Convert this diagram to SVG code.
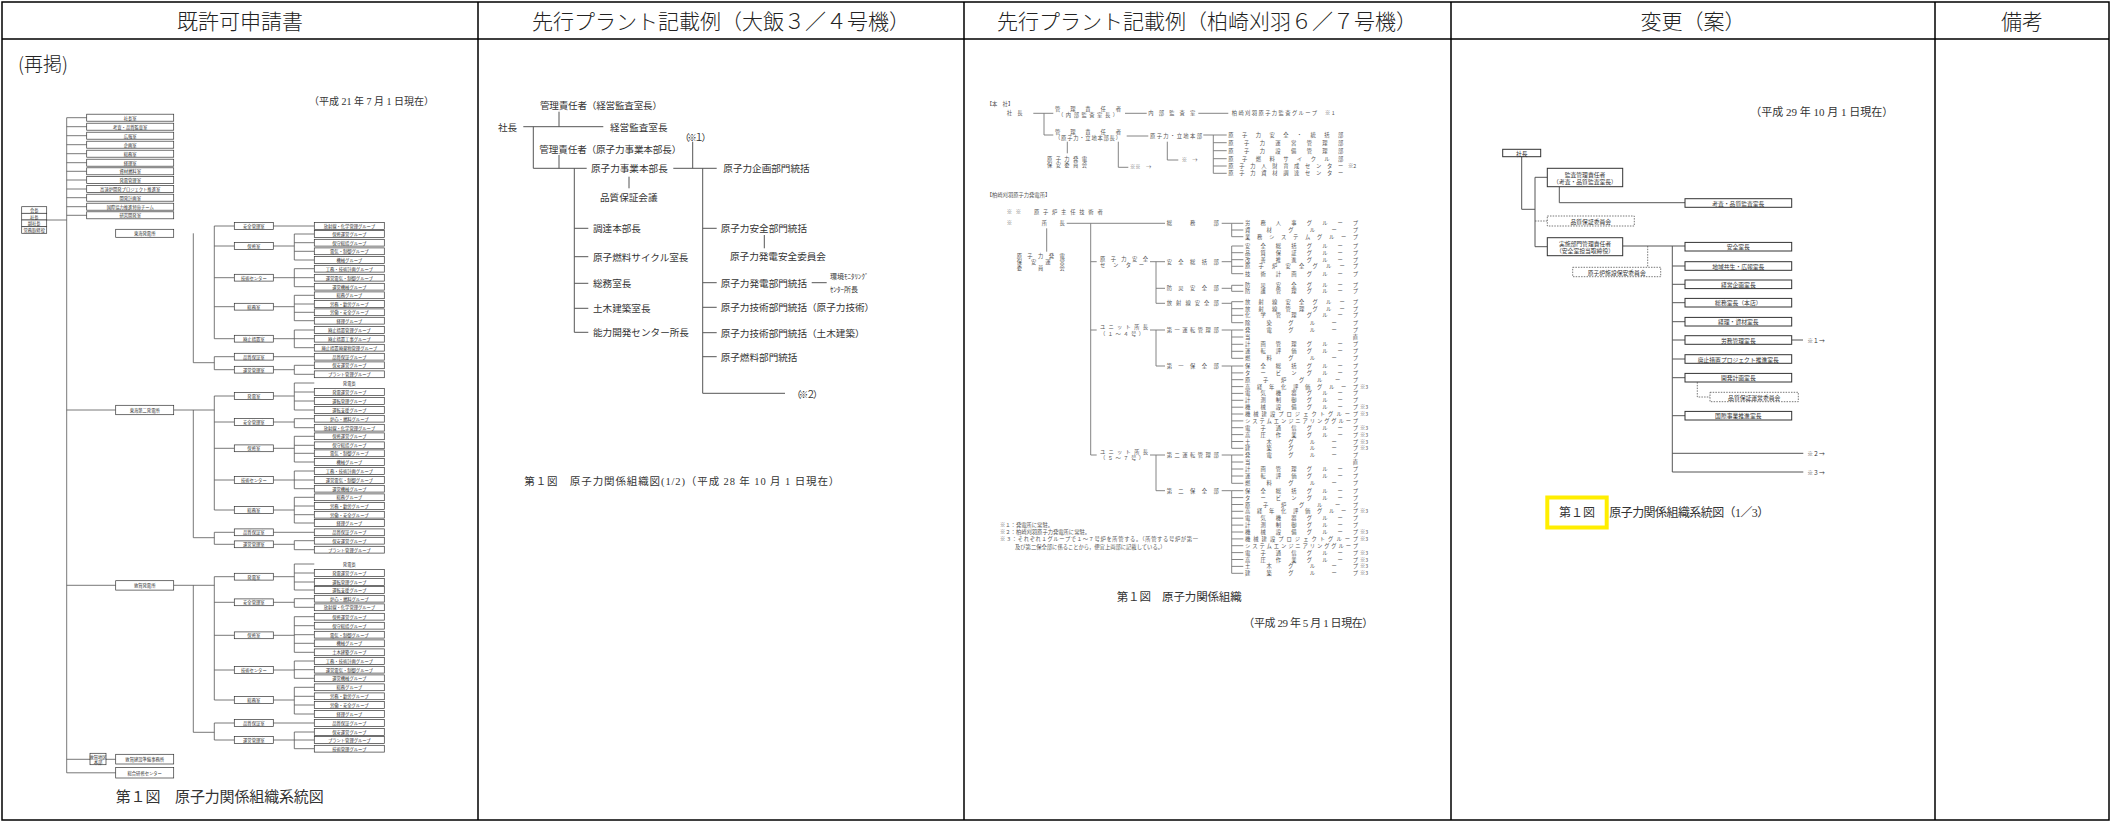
<svg xmlns="http://www.w3.org/2000/svg" width="2112" height="824" viewBox="0 0 2112 824">
<style>
text{font-family:"Noto Sans CJK JP","Noto Sans",sans-serif}
.hd{font-size:21px;fill:#222;font-weight:300;text-anchor:middle;dominant-baseline:central}
.grid{fill:none;stroke:#000;stroke-width:1.5}
.ln{fill:none;stroke:#555;stroke-width:0.8}
.b1{fill:#fff;stroke:#333;stroke-width:0.7}
.t1{font-size:4.3px;fill:#333;text-anchor:middle;dominant-baseline:central}
.t2{font-size:9.6px;fill:#333;dominant-baseline:central}
.l2{fill:none;stroke:#555;stroke-width:1}
.t3{font-size:5.3px;fill:#555;dominant-baseline:central}
.l3{fill:none;stroke:#777;stroke-width:0.9}
.b4{fill:#fff;stroke:#333;stroke-width:1}
.d4{fill:#fff;stroke:#555;stroke-width:0.8;stroke-dasharray:1.5 1.2}
.t4{font-size:5.8px;fill:#333;text-anchor:middle;dominant-baseline:central}
.cap{font-family:"Liberation Serif","Noto Sans CJK JP",serif;fill:#333;dominant-baseline:central}
</style>
<rect width="2112" height="824" fill="#fff"/>
<g id="table">
<rect class="grid" x="2" y="2" width="2107" height="818"/>
<path class="grid" d="M2,39H2109M478,2V820M964,2V820M1451,2V820M1935,2V820"/>
<text class="hd" x="240" y="20">既許可申請書</text>
<text class="hd" x="721" y="20">先行プラント記載例（大飯３／４号機）</text>
<text class="hd" x="1207" y="20">先行プラント記載例（柏崎刈羽６／７号機）</text>
<text class="hd" x="1693" y="20">変更（案）</text>
<text class="hd" x="2022" y="20">備考</text>
<text x="18" y="62" style="font-size:19px;fill:#222;font-weight:300;dominant-baseline:central">(再掲)</text>
</g>

<!-- Column 1 -->
<g id="col1-connectors">
<path class="ln" d="M66.7,117.7V772.8M46.7,220H66.7M66.7,117.7H86.7M66.7,126.7H86.7M66.7,135.7H86.7M66.7,144.7H86.7M66.7,153.7H86.7M66.7,162.7H86.7M66.7,171.3H86.7M66.7,180H86.7M66.7,189H86.7M66.7,197.7H86.7M66.7,206.7H86.7M66.7,215.3H86.7"/>
<path class="ln" d="M193.3,233.3V362.7H214.3M214.3,226V338.7M214.3,356.7V369.7M214.3,226H234.3M214.3,246H234.3M214.3,277.7H234.3M214.3,306.7H234.3M214.3,338.7H234.3M214.3,356.7H234.3M214.3,369.7H234.3M273.3,226H314.3M273.3,246H294.3M294.3,234V260M294.3,234H314.3M294.3,242.7H314.3M294.3,251.3H314.3M294.3,260H314.3M273.3,277.7H294.3M294.3,268.7V286.7M294.3,268.7H314.3M294.3,277.7H314.3M294.3,286.7H314.3M273.3,306.7H294.3M294.3,295.3V320.7M294.3,295.3H314.3M294.3,304H314.3M294.3,312.3H314.3M294.3,320.7H314.3M273.3,338.7H294.3M294.3,330V347.7M294.3,330H314.3M294.3,338.7H314.3M294.3,347.7H314.3M273.3,356.7H314.3M273.3,369.7H294.3M294.3,365.3V374.3M294.3,365.3H314.3M294.3,374.3H314.3"/>
<path class="ln" d="M66.7,410H115.7M173.7,410H214.3M193.3,410V537.7H214.3M214.3,396V510M214.3,532.3V544.3M214.3,396H234.3M214.3,422H234.3M214.3,448.3H234.3M214.3,480H234.3M214.3,510H234.3M214.3,532.3H234.3M214.3,544.3H234.3M273.3,396H294.3M294.3,383V410M294.3,383H314.3M294.3,392H314.3M294.3,401H314.3M294.3,410H314.3M273.3,422H294.3M294.3,418.7V427.7M294.3,418.7H314.3M294.3,427.7H314.3M273.3,448.3H294.3M294.3,436.3V462M294.3,436.3H314.3M294.3,445.3H314.3M294.3,453.3H314.3M294.3,462H314.3M273.3,480H294.3M294.3,471V488.7M294.3,471H314.3M294.3,480H314.3M294.3,488.7H314.3M273.3,510H294.3M294.3,497.3V523M294.3,497.3H314.3M294.3,506H314.3M294.3,514.7H314.3M294.3,523H314.3M273.3,532.3H314.3M273.3,544.3H294.3M294.3,540.7V549.7M294.3,540.7H314.3M294.3,549.7H314.3"/>
<path class="ln" d="M66.7,585.3H115.7M173.7,585.3H214.3M193.3,585.3V732.3H214.3M214.3,576.7V700M214.3,723V740M214.3,576.7H234.3M214.3,602.3H234.3M214.3,635.3H234.3M214.3,670H234.3M214.3,700H234.3M214.3,723H234.3M214.3,740H234.3M273.3,576.7H294.3M294.3,564V590M294.3,564H314.3M294.3,573H314.3M294.3,582H314.3M294.3,590H314.3M273.3,602.3H294.3M294.3,598.7V607.3M294.3,598.7H314.3M294.3,607.3H314.3M273.3,635.3H294.3M294.3,616.7V652.3M294.3,616.7H314.3M294.3,625.7H314.3M294.3,634.7H314.3M294.3,643.3H314.3M294.3,652.3H314.3M273.3,670H294.3M294.3,661V678.3M294.3,661H314.3M294.3,669.7H314.3M294.3,678.3H314.3M273.3,700H294.3M294.3,687.3V714M294.3,687.3H314.3M294.3,696.3H314.3M294.3,705H314.3M294.3,714H314.3M273.3,723H314.3M273.3,740H294.3M294.3,732V748.7M294.3,732H314.3M294.3,740H314.3M294.3,748.7H314.3"/>
<path class="ln" d="M66.7,759.3H90M106,759.3H115.7M66.7,772.8H115.7"/>
</g>
<g id="col1-nodes">
<text x="434" y="101" text-anchor="end" class="cap" style="font-size:10px">（平成 21 年 7 月 1 日現在）</text>
<g id="c1-top">
<rect class="b1" x="86.7" y="114.2" width="87" height="7"/><text class="t1" x="130.2" y="117.7">社長室</text>
<rect class="b1" x="86.7" y="123.2" width="87" height="7"/><text class="t1" x="130.2" y="126.7">考査・品質監査室</text>
<rect class="b1" x="86.7" y="132.2" width="87" height="7"/><text class="t1" x="130.2" y="135.7">広報室</text>
<rect class="b1" x="86.7" y="141.2" width="87" height="7"/><text class="t1" x="130.2" y="144.7">企画室</text>
<rect class="b1" x="86.7" y="150.2" width="87" height="7"/><text class="t1" x="130.2" y="153.7">総務室</text>
<rect class="b1" x="86.7" y="159.2" width="87" height="7"/><text class="t1" x="130.2" y="162.7">経理室</text>
<rect class="b1" x="86.7" y="167.8" width="87" height="7"/><text class="t1" x="130.2" y="171.3">資材燃料室</text>
<rect class="b1" x="86.7" y="176.5" width="87" height="7"/><text class="t1" x="130.2" y="180">発電管理室</text>
<rect class="b1" x="86.7" y="185.5" width="87" height="7"/><text class="t1" x="130.2" y="189">高速炉開発プロジェクト推進室</text>
<rect class="b1" x="86.7" y="194.2" width="87" height="7"/><text class="t1" x="130.2" y="197.7">開発計画室</text>
<rect class="b1" x="86.7" y="203.2" width="87" height="7"/><text class="t1" x="130.2" y="206.7">国際協力推進特命チーム</text>
<rect class="b1" x="86.7" y="211.8" width="87" height="7"/><text class="t1" x="130.2" y="215.3">研究開発室</text>
</g>
<g id="c1-exec">
<rect class="b1" x="21.7" y="206.7" width="25" height="6.6"/><text class="t1" x="34.2" y="210">会長</text>
<rect class="b1" x="21.7" y="213.3" width="25" height="6.7"/><text class="t1" x="34.2" y="216.7">社長</text>
<rect class="b1" x="21.7" y="220" width="25" height="6.7"/><text class="t1" x="34.2" y="223.3">副社長</text>
<rect class="b1" x="21.7" y="226.7" width="25" height="6.6"/><text class="t1" x="34.2" y="230">常務取締役</text>
</g>
<g id="c1-tokai">
<rect class="b1" x="115.7" y="229.3" width="58" height="8"/><text class="t1" x="144.7" y="233.3">東海発電所</text>
<rect class="b1" x="234.3" y="222.6" width="39" height="6.8"/><text class="t1" x="253.8" y="226">安全管理室</text>
<rect class="b1" x="234.3" y="242.6" width="39" height="6.8"/><text class="t1" x="253.8" y="246">保修室</text>
<rect class="b1" x="234.3" y="274.3" width="39" height="6.8"/><text class="t1" x="253.8" y="277.7">技術センター</text>
<rect class="b1" x="234.3" y="303.3" width="39" height="6.8"/><text class="t1" x="253.8" y="306.7">総務室</text>
<rect class="b1" x="234.3" y="335.3" width="39" height="6.8"/><text class="t1" x="253.8" y="338.7">廃止措置室</text>
<rect class="b1" x="234.3" y="353.3" width="39" height="6.8"/><text class="t1" x="253.8" y="356.7">品質保証室</text>
<rect class="b1" x="234.3" y="366.3" width="39" height="6.8"/><text class="t1" x="253.8" y="369.7">運営管理室</text>
<rect class="b1" x="314.3" y="222.6" width="70" height="6.8"/><text class="t1" x="349.3" y="226">放射線・化学管理グループ</text>
<rect class="b1" x="314.3" y="230.6" width="70" height="6.8"/><text class="t1" x="349.3" y="234">保修運営グループ</text>
<rect class="b1" x="314.3" y="239.3" width="70" height="6.8"/><text class="t1" x="349.3" y="242.7">保守総括グループ</text>
<rect class="b1" x="314.3" y="247.9" width="70" height="6.8"/><text class="t1" x="349.3" y="251.3">電気・制御グループ</text>
<rect class="b1" x="314.3" y="256.6" width="70" height="6.8"/><text class="t1" x="349.3" y="260">機械グループ</text>
<rect class="b1" x="314.3" y="265.3" width="70" height="6.8"/><text class="t1" x="349.3" y="268.7">工務・技術計画グループ</text>
<rect class="b1" x="314.3" y="274.3" width="70" height="6.8"/><text class="t1" x="349.3" y="277.7">運営電気・制御グループ</text>
<rect class="b1" x="314.3" y="283.3" width="70" height="6.8"/><text class="t1" x="349.3" y="286.7">運営機械グループ</text>
<rect class="b1" x="314.3" y="291.9" width="70" height="6.8"/><text class="t1" x="349.3" y="295.3">総務グループ</text>
<rect class="b1" x="314.3" y="300.6" width="70" height="6.8"/><text class="t1" x="349.3" y="304">労務・勤労グループ</text>
<rect class="b1" x="314.3" y="308.9" width="70" height="6.8"/><text class="t1" x="349.3" y="312.3">労働・安全グループ</text>
<rect class="b1" x="314.3" y="317.3" width="70" height="6.8"/><text class="t1" x="349.3" y="320.7">経理グループ</text>
<rect class="b1" x="314.3" y="326.6" width="70" height="6.8"/><text class="t1" x="349.3" y="330">廃止措置管理グループ</text>
<rect class="b1" x="314.3" y="335.3" width="70" height="6.8"/><text class="t1" x="349.3" y="338.7">廃止措置工事グループ</text>
<rect class="b1" x="314.3" y="344.3" width="70" height="6.8"/><text class="t1" x="349.3" y="347.7">廃止措置廃棄物管理グループ</text>
<rect class="b1" x="314.3" y="353.3" width="70" height="6.8"/><text class="t1" x="349.3" y="356.7">品質保証グループ</text>
<rect class="b1" x="314.3" y="361.9" width="70" height="6.8"/><text class="t1" x="349.3" y="365.3">保安運営グループ</text>
<rect class="b1" x="314.3" y="370.9" width="70" height="6.8"/><text class="t1" x="349.3" y="374.3">プラント管理グループ</text>
</g>
<g id="c1-tokai2">
<rect class="b1" x="115.7" y="405.3" width="58" height="9.4"/><text class="t1" x="144.7" y="410">東海第二発電所</text>
<rect class="b1" x="234.3" y="392.6" width="39" height="6.8"/><text class="t1" x="253.8" y="396">発電室</text>
<rect class="b1" x="234.3" y="418.6" width="39" height="6.8"/><text class="t1" x="253.8" y="422">安全管理室</text>
<rect class="b1" x="234.3" y="444.9" width="39" height="6.8"/><text class="t1" x="253.8" y="448.3">保修室</text>
<rect class="b1" x="234.3" y="476.6" width="39" height="6.8"/><text class="t1" x="253.8" y="480">技術センター</text>
<rect class="b1" x="234.3" y="506.6" width="39" height="6.8"/><text class="t1" x="253.8" y="510">総務室</text>
<rect class="b1" x="234.3" y="528.9" width="39" height="6.8"/><text class="t1" x="253.8" y="532.3">品質保証室</text>
<rect class="b1" x="234.3" y="540.9" width="39" height="6.8"/><text class="t1" x="253.8" y="544.3">運営管理室</text>
<text class="t1" x="349.3" y="383">発電長</text>
<rect class="b1" x="314.3" y="388.6" width="70" height="6.8"/><text class="t1" x="349.3" y="392">発電運営グループ</text>
<rect class="b1" x="314.3" y="397.6" width="70" height="6.8"/><text class="t1" x="349.3" y="401">運転管理グループ</text>
<rect class="b1" x="314.3" y="406.6" width="70" height="6.8"/><text class="t1" x="349.3" y="410">運転支援グループ</text>
<rect class="b1" x="314.3" y="415.3" width="70" height="6.8"/><text class="t1" x="349.3" y="418.7">炉心・燃料グループ</text>
<rect class="b1" x="314.3" y="424.3" width="70" height="6.8"/><text class="t1" x="349.3" y="427.7">放射線・化学管理グループ</text>
<rect class="b1" x="314.3" y="432.9" width="70" height="6.8"/><text class="t1" x="349.3" y="436.3">保修運営グループ</text>
<rect class="b1" x="314.3" y="441.9" width="70" height="6.8"/><text class="t1" x="349.3" y="445.3">保守総括グループ</text>
<rect class="b1" x="314.3" y="449.9" width="70" height="6.8"/><text class="t1" x="349.3" y="453.3">電気・制御グループ</text>
<rect class="b1" x="314.3" y="458.6" width="70" height="6.8"/><text class="t1" x="349.3" y="462">機械グループ</text>
<rect class="b1" x="314.3" y="467.6" width="70" height="6.8"/><text class="t1" x="349.3" y="471">工務・技術計画グループ</text>
<rect class="b1" x="314.3" y="476.6" width="70" height="6.8"/><text class="t1" x="349.3" y="480">運営電気・制御グループ</text>
<rect class="b1" x="314.3" y="485.3" width="70" height="6.8"/><text class="t1" x="349.3" y="488.7">運営機械グループ</text>
<rect class="b1" x="314.3" y="493.9" width="70" height="6.8"/><text class="t1" x="349.3" y="497.3">総務グループ</text>
<rect class="b1" x="314.3" y="502.6" width="70" height="6.8"/><text class="t1" x="349.3" y="506">労務・勤労グループ</text>
<rect class="b1" x="314.3" y="511.3" width="70" height="6.8"/><text class="t1" x="349.3" y="514.7">労働・安全グループ</text>
<rect class="b1" x="314.3" y="519.6" width="70" height="6.8"/><text class="t1" x="349.3" y="523">経理グループ</text>
<rect class="b1" x="314.3" y="528.9" width="70" height="6.8"/><text class="t1" x="349.3" y="532.3">品質保証グループ</text>
<rect class="b1" x="314.3" y="537.3" width="70" height="6.8"/><text class="t1" x="349.3" y="540.7">保安運営グループ</text>
<rect class="b1" x="314.3" y="546.3" width="70" height="6.8"/><text class="t1" x="349.3" y="549.7">プラント管理グループ</text>
</g>
<g id="c1-tsuruga">
<rect class="b1" x="115.7" y="580.7" width="58" height="9.4"/><text class="t1" x="144.7" y="585.3">敦賀発電所</text>
<rect class="b1" x="234.3" y="573.3" width="39" height="6.8"/><text class="t1" x="253.8" y="576.7">発電室</text>
<rect class="b1" x="234.3" y="598.9" width="39" height="6.8"/><text class="t1" x="253.8" y="602.3">安全管理室</text>
<rect class="b1" x="234.3" y="631.9" width="39" height="6.8"/><text class="t1" x="253.8" y="635.3">保修室</text>
<rect class="b1" x="234.3" y="666.6" width="39" height="6.8"/><text class="t1" x="253.8" y="670">技術センター</text>
<rect class="b1" x="234.3" y="696.6" width="39" height="6.8"/><text class="t1" x="253.8" y="700">総務室</text>
<rect class="b1" x="234.3" y="719.6" width="39" height="6.8"/><text class="t1" x="253.8" y="723">品質保証室</text>
<rect class="b1" x="234.3" y="736.6" width="39" height="6.8"/><text class="t1" x="253.8" y="740">運営管理室</text>
<text class="t1" x="349.3" y="564">発電長</text>
<rect class="b1" x="314.3" y="569.6" width="70" height="6.8"/><text class="t1" x="349.3" y="573">発電運営グループ</text>
<rect class="b1" x="314.3" y="578.6" width="70" height="6.8"/><text class="t1" x="349.3" y="582">運転管理グループ</text>
<rect class="b1" x="314.3" y="586.6" width="70" height="6.8"/><text class="t1" x="349.3" y="590">運転支援グループ</text>
<rect class="b1" x="314.3" y="595.3" width="70" height="6.8"/><text class="t1" x="349.3" y="598.7">炉心・燃料グループ</text>
<rect class="b1" x="314.3" y="603.9" width="70" height="6.8"/><text class="t1" x="349.3" y="607.3">放射線・化学管理グループ</text>
<rect class="b1" x="314.3" y="613.3" width="70" height="6.8"/><text class="t1" x="349.3" y="616.7">保修運営グループ</text>
<rect class="b1" x="314.3" y="622.3" width="70" height="6.8"/><text class="t1" x="349.3" y="625.7">保守総括グループ</text>
<rect class="b1" x="314.3" y="631.3" width="70" height="6.8"/><text class="t1" x="349.3" y="634.7">電気・制御グループ</text>
<rect class="b1" x="314.3" y="639.9" width="70" height="6.8"/><text class="t1" x="349.3" y="643.3">機械グループ</text>
<rect class="b1" x="314.3" y="648.9" width="70" height="6.8"/><text class="t1" x="349.3" y="652.3">土木建築グループ</text>
<rect class="b1" x="314.3" y="657.6" width="70" height="6.8"/><text class="t1" x="349.3" y="661">工務・技術計画グループ</text>
<rect class="b1" x="314.3" y="666.3" width="70" height="6.8"/><text class="t1" x="349.3" y="669.7">運営電気・制御グループ</text>
<rect class="b1" x="314.3" y="674.9" width="70" height="6.8"/><text class="t1" x="349.3" y="678.3">運営機械グループ</text>
<rect class="b1" x="314.3" y="683.9" width="70" height="6.8"/><text class="t1" x="349.3" y="687.3">総務グループ</text>
<rect class="b1" x="314.3" y="692.9" width="70" height="6.8"/><text class="t1" x="349.3" y="696.3">労務・勤労グループ</text>
<rect class="b1" x="314.3" y="701.6" width="70" height="6.8"/><text class="t1" x="349.3" y="705">労働・安全グループ</text>
<rect class="b1" x="314.3" y="710.6" width="70" height="6.8"/><text class="t1" x="349.3" y="714">経理グループ</text>
<rect class="b1" x="314.3" y="719.6" width="70" height="6.8"/><text class="t1" x="349.3" y="723">品質保証グループ</text>
<rect class="b1" x="314.3" y="728.6" width="70" height="6.8"/><text class="t1" x="349.3" y="732">保安運営グループ</text>
<rect class="b1" x="314.3" y="736.6" width="70" height="6.8"/><text class="t1" x="349.3" y="740">プラント管理グループ</text>
<rect class="b1" x="314.3" y="745.3" width="70" height="6.8"/><text class="t1" x="349.3" y="748.7">技術管理グループ</text>
</g>
<g id="c1-bottom">
<rect class="b1" x="90" y="753.3" width="16" height="11.4"/><text class="t1" x="98" y="756.6">敦賀地区</text><text class="t1" x="98" y="761.6">本部</text>
<rect class="b1" x="115.7" y="754.3" width="58" height="9.7"/><text class="t1" x="144.7" y="759.2">敦賀建設準備事務所</text>
<rect class="b1" x="115.7" y="767.6" width="58" height="10.4"/><text class="t1" x="144.7" y="772.8">総合研修センター</text>
</g>
<text class="cap" x="115.7" y="797" style="font-size:15px" textLength="208">第１図　原子力関係組織系統図</text>
</g>

<!-- Column 2 -->
<g id="col2-connectors">
<path class="l2" d="M559,111.7V126.7M523.3,126.7H603.3M533.3,126.7V168.3H586.7M559,155V168.3M673.3,168.3H716.7M692.7,141.7V168.3M629,176.7V188.3M574.3,168.3V332.3H588.3M574.3,228.3H588.3M574.3,256.7H588.3M574.3,283.3H588.3M574.3,308.3H588.3M702.7,168.3V393.3H785M702.7,228.3H716.7M702.7,282.7H716.7M702.7,307.3H716.7M702.7,332.7H716.7M702.7,356.7H716.7M764.3,235V248.3M811.7,282.7H826.7"/>
</g>
<g id="col2-nodes">
<g id="c2-kanri1"><text class="t2" x="540" y="105" textLength="122">管理責任者（経営監査室長）</text></g>
<g id="c2-shacho"><text class="t2" x="498" y="127">社長</text></g>
<g id="c2-keiei"><text class="t2" x="610" y="127">経営監査室長</text></g>
<g id="c2-note1"><text class="t2" x="680" y="137" textLength="31">（※１）</text></g>
<g id="c2-kanri2"><text class="t2" x="539.3" y="149" textLength="142">管理責任者（原子力事業本部長）</text></g>
<g id="c2-honbu"><text class="t2" x="591" y="168.3">原子力事業本部長</text></g>
<g id="c2-kikaku"><text class="t2" x="723.3" y="168.3">原子力企画部門統括</text></g>
<g id="c2-hinshitsu"><text class="t2" x="600" y="197.3">品質保証会議</text></g>
<g id="c2-chotatsu"><text class="t2" x="593" y="228.3">調達本部長</text></g>
<g id="c2-cycle"><text class="t2" x="593" y="256.7">原子燃料サイクル室長</text></g>
<g id="c2-somu"><text class="t2" x="593" y="283.3">総務室長</text></g>
<g id="c2-doboku"><text class="t2" x="593" y="308.3">土木建築室長</text></g>
<g id="c2-noryoku"><text class="t2" x="593" y="332.3">能力開発センター所長</text></g>
<g id="c2-anzen"><text class="t2" x="720.7" y="228.3">原子力安全部門統括</text></g>
<g id="c2-iinkai"><text class="t2" x="730" y="255.7">原子力発電安全委員会</text></g>
<g id="c2-hatsuden"><text class="t2" x="720.7" y="282.7">原子力発電部門統括</text></g>
<g id="c2-kankyo"><text class="t2" x="830" y="276" style="font-size:7px">環境ﾓﾆﾀﾘﾝｸﾞ</text><text class="t2" x="830" y="288.7" style="font-size:7px">ｾﾝﾀｰ所長</text></g>
<g id="c2-gijutsu1"><text class="t2" x="720.7" y="307.3">原子力技術部門統括（原子力技術）</text></g>
<g id="c2-gijutsu2"><text class="t2" x="720.7" y="332.7">原子力技術部門統括（土木建築）</text></g>
<g id="c2-nenryo"><text class="t2" x="720.7" y="356.7">原子燃料部門統括</text></g>
<g id="c2-note2"><text class="t2" x="791.7" y="394.3" textLength="31">（※２）</text></g>
<text class="cap" x="524.3" y="481.7" style="font-size:10.5px" textLength="315">第１図　原子力関係組織図(1/2)（平成 28 年 10 月 1 日現在）</text>
</g>

<!-- Column 3 -->
<g id="col3-connectors">
<path class="l3" d="M1033.3,113.3H1053.3M1044,113.3V135H1053.3M1125,113.3H1146.7M1198.3,113.3H1228.3M1126.7,136H1148.3M1203.3,135H1226.7M1213.3,135V173.3M1213.3,142.7H1226.7M1213.3,150.7H1226.7M1213.3,158.7H1226.7M1213.3,166H1226.7M1213.3,173.3H1226.7M1067.3,141.7V153.3M1118.3,141.7V167.3H1128.3M1167.3,141.7V160H1178.3"/>
<path class="l3" d="M1066.7,223.3H1165M1046.7,228.3V251.7M1090.7,223.3V455H1096.7M1090.7,261.7H1096.7M1090.7,330H1096.7M1150,261.7H1165M1156,261.7V303.3M1156,288.3H1165M1156,303.3H1165M1150,330H1165M1156,330V366H1165M1150,455H1165M1156,455V490.7H1165"/>
<path class="l3" d="M1221.7,223.3H1231.7M1231.7,223.3V236.7M1231.7,223.3H1243.3M1231.7,230H1243.3M1231.7,236.7H1243.3M1221.7,261.7H1231.7M1231.7,246V273.7M1231.7,246H1243.3M1231.7,252.7H1243.3M1231.7,259.7H1243.3M1231.7,266.3H1243.3M1231.7,273.7H1243.3M1221.7,288.3H1231.7M1231.7,285.3V291.3M1231.7,285.3H1243.3M1231.7,291.3H1243.3M1221.7,303.3H1231.7M1231.7,301.7V322.7M1231.7,301.7H1243.3M1231.7,308.7H1243.3M1231.7,315.3H1243.3M1231.7,322.7H1243.3M1221.7,330H1231.7M1231.7,330V358.3M1231.7,337H1243.3M1231.7,330H1243.3M1231.7,344.3H1243.3M1231.7,351.3H1243.3M1231.7,358.3H1243.3M1221.7,366H1231.7M1231.7,366V448.3M1231.7,366H1243.3M1231.7,372.9H1243.3M1231.7,379.7H1243.3M1231.7,386.6H1243.3M1231.7,393.4H1243.3M1231.7,400.3H1243.3M1231.7,407.2H1243.3M1231.7,414H1243.3M1231.7,420.9H1243.3M1231.7,427.7H1243.3M1231.7,434.6H1243.3M1231.7,441.5H1243.3M1231.7,448.3H1243.3M1221.7,455H1231.7M1231.7,455V483.3M1231.7,455H1243.3M1231.7,462H1243.3M1231.7,469H1243.3M1231.7,476H1243.3M1231.7,483.3H1243.3M1221.7,490.7H1231.7M1231.7,490.7V573.3M1231.7,490.7H1243.3M1231.7,497.6H1243.3M1231.7,504.5H1243.3M1231.7,511.3H1243.3M1231.7,518.2H1243.3M1231.7,525.1H1243.3M1231.7,532H1243.3M1231.7,538.9H1243.3M1231.7,545.7H1243.3M1231.7,552.6H1243.3M1231.7,559.5H1243.3M1231.7,566.4H1243.3M1231.7,573.3H1243.3"/>
</g>
<g id="col3-nodes">
<g id="c3-honsha">
<text class="t3" x="986.7" y="104.3">【本　社】</text>
<text class="t3" x="1006.7" y="113.3">社　長</text>
<text class="t3" x="1055" y="109.3" textLength="66" lengthAdjust="spacing">管理責任者</text>
<text class="t3" x="1058" y="115.3" textLength="60" lengthAdjust="spacing">（内部監査室長）</text>
<text class="t3" x="1148.3" y="113.3" textLength="47" lengthAdjust="spacing">内部監査室</text>
<text class="t3" x="1231.7" y="113.3" textLength="103" lengthAdjust="spacing">柏崎刈羽原子力監査グループ　※1</text>
<text class="t3" x="1055" y="132.3" textLength="66" lengthAdjust="spacing">管理責任者</text>
<text class="t3" x="1055" y="138.3" textLength="66" lengthAdjust="spacing">（原子力・立地本部長）</text>
<text class="t3" x="1150" y="136" textLength="52" lengthAdjust="spacing">原子力・立地本部</text>
<text class="t3" x="1228.3" y="135" textLength="115" lengthAdjust="spacing">原子力安全・統括部</text>
<text class="t3" x="1228.3" y="142.7" textLength="115" lengthAdjust="spacing">原子力運営管理部</text>
<text class="t3" x="1228.3" y="150.7" textLength="115" lengthAdjust="spacing">原子力設備管理部</text>
<text class="t3" x="1228.3" y="158.7" textLength="115" lengthAdjust="spacing">原子燃料サイクル部</text>
<text class="t3" x="1228.3" y="166" textLength="115" lengthAdjust="spacing">原子力人財育成センター</text>
<text class="t3" x="1348" y="166">※2</text>
<text class="t3" x="1228.3" y="173.3" textLength="115" lengthAdjust="spacing">原子力資材調達センター</text>
<text class="t3" x="1047" y="159.3" textLength="40" lengthAdjust="spacing">原子力発電</text>
<text class="t3" x="1047" y="165.3" textLength="40" lengthAdjust="spacing">保安委員会</text>
<text class="t3" x="1130" y="167.3">※※　→</text>
<text class="t3" x="1181.7" y="160">※　→</text>
</g>
<g id="c3-ps">
<text class="t3" x="986.7" y="195">【柏崎刈羽原子力発電所】</text>
<text class="t3" x="1006.7" y="211.7" textLength="96" lengthAdjust="spacing">※※　原子炉主任技術者</text>
<text class="t3" x="1006.7" y="223.3" textLength="58" lengthAdjust="spacing">※　所長</text>
<text class="t3" x="1016.7" y="256" textLength="48" lengthAdjust="spacing">原子力発電</text>
<text class="t3" x="1016.7" y="262" textLength="48" lengthAdjust="spacing">保安運営</text>
<text class="t3" x="1016.7" y="268" textLength="48" lengthAdjust="spacing">委員会</text>
<text class="t3" x="1100" y="259.3" textLength="48" lengthAdjust="spacing">原子力安全</text>
<text class="t3" x="1100" y="264.7" textLength="44" lengthAdjust="spacing">センター</text>
<text class="t3" x="1100" y="327.3" textLength="48" lengthAdjust="spacing">ユニット所長</text>
<text class="t3" x="1100" y="334" textLength="44" lengthAdjust="spacing">（１～４号）</text>
<text class="t3" x="1100" y="451.7" textLength="48" lengthAdjust="spacing">ユニット所長</text>
<text class="t3" x="1100" y="458.3" textLength="44" lengthAdjust="spacing">（５～７号）</text>
</g>
<g id="c3-divs">
<text class="t3" x="1166.7" y="223.3" textLength="52" lengthAdjust="spacing">総務部</text>
<text class="t3" x="1166.7" y="261.7" textLength="52" lengthAdjust="spacing">安全総括部</text>
<text class="t3" x="1166.7" y="288.3" textLength="52" lengthAdjust="spacing">防災安全部</text>
<text class="t3" x="1166.7" y="303.3" textLength="52" lengthAdjust="spacing">放射線安全部</text>
<text class="t3" x="1166.7" y="330" textLength="52" lengthAdjust="spacing">第一運転管理部</text>
<text class="t3" x="1166.7" y="366" textLength="52" lengthAdjust="spacing">第一保全部</text>
<text class="t3" x="1166.7" y="455" textLength="52" lengthAdjust="spacing">第二運転管理部</text>
<text class="t3" x="1166.7" y="490.7" textLength="52" lengthAdjust="spacing">第二保全部</text>
</g>
<g id="c3-groups">
<text class="t3" x="1245" y="223.3" textLength="113" lengthAdjust="spacing">労務人事グループ</text>
<text class="t3" x="1245" y="230" textLength="113" lengthAdjust="spacing">資材グループ</text>
<text class="t3" x="1245" y="236.7" textLength="113" lengthAdjust="spacing">業務システムグループ</text>
<text class="t3" x="1245" y="246" textLength="113" lengthAdjust="spacing">安全総括グループ</text>
<text class="t3" x="1245" y="252.7" textLength="113" lengthAdjust="spacing">品質保証グループ</text>
<text class="t3" x="1245" y="259.7" textLength="113" lengthAdjust="spacing">改善推進グループ</text>
<text class="t3" x="1245" y="266.3" textLength="113" lengthAdjust="spacing">原子炉安全グループ</text>
<text class="t3" x="1245" y="273.7" textLength="113" lengthAdjust="spacing">技術計画グループ</text>
<text class="t3" x="1245" y="285.3" textLength="113" lengthAdjust="spacing">防災安全グループ</text>
<text class="t3" x="1245" y="291.3" textLength="113" lengthAdjust="spacing">防護管理グループ</text>
<text class="t3" x="1245" y="301.7" textLength="113" lengthAdjust="spacing">放射線安全グループ</text>
<text class="t3" x="1245" y="308.7" textLength="113" lengthAdjust="spacing">放射線管理グループ</text>
<text class="t3" x="1245" y="315.3" textLength="113" lengthAdjust="spacing">化学管理グループ</text>
<text class="t3" x="1245" y="322.7" textLength="113" lengthAdjust="spacing">除染グループ</text>
<text class="t3" x="1245" y="330" textLength="113" lengthAdjust="spacing">発電グループ</text>
<text class="t3" x="1245" y="337" textLength="113" lengthAdjust="spacing">当直</text>
<text class="t3" x="1245" y="344.3" textLength="113" lengthAdjust="spacing">計画管理グループ</text>
<text class="t3" x="1245" y="351.3" textLength="113" lengthAdjust="spacing">運転評価グループ</text>
<text class="t3" x="1245" y="358.3" textLength="113" lengthAdjust="spacing">燃料グループ</text>
<text class="t3" x="1245" y="366" textLength="113" lengthAdjust="spacing">保全総括グループ</text>
<text class="t3" x="1245" y="372.9" textLength="113" lengthAdjust="spacing">タービングループ</text>
<text class="t3" x="1245" y="379.7" textLength="113" lengthAdjust="spacing">原子炉グループ</text>
<text class="t3" x="1245" y="386.6" textLength="113" lengthAdjust="spacing">高経年化評価グループ</text><text class="t3" x="1360" y="386.6">※3</text>
<text class="t3" x="1245" y="393.4" textLength="113" lengthAdjust="spacing">電気機器グループ</text>
<text class="t3" x="1245" y="400.3" textLength="113" lengthAdjust="spacing">計測制御グループ</text>
<text class="t3" x="1245" y="407.2" textLength="113" lengthAdjust="spacing">機械設備グループ</text><text class="t3" x="1360" y="407.2">※3</text>
<text class="t3" x="1245" y="414" textLength="113" lengthAdjust="spacing">機械建設プロジェクトグループ</text><text class="t3" x="1360" y="414">※3</text>
<text class="t3" x="1245" y="420.9" textLength="113" lengthAdjust="spacing">システムエンジニアリンググループ</text>
<text class="t3" x="1245" y="427.7" textLength="113" lengthAdjust="spacing">電子通信グループ</text><text class="t3" x="1360" y="427.7">※3</text>
<text class="t3" x="1245" y="434.6" textLength="113" lengthAdjust="spacing">高圧作業グループ</text><text class="t3" x="1360" y="434.6">※3</text>
<text class="t3" x="1245" y="441.5" textLength="113" lengthAdjust="spacing">土木グループ</text><text class="t3" x="1360" y="441.5">※3</text>
<text class="t3" x="1245" y="448.3" textLength="113" lengthAdjust="spacing">建築グループ</text><text class="t3" x="1360" y="448.3">※3</text>
<text class="t3" x="1245" y="455" textLength="113" lengthAdjust="spacing">発電グループ</text>
<text class="t3" x="1245" y="462" textLength="113" lengthAdjust="spacing">当直</text>
<text class="t3" x="1245" y="469" textLength="113" lengthAdjust="spacing">計画管理グループ</text>
<text class="t3" x="1245" y="476" textLength="113" lengthAdjust="spacing">運転評価グループ</text>
<text class="t3" x="1245" y="483.3" textLength="113" lengthAdjust="spacing">燃料グループ</text>
<text class="t3" x="1245" y="490.7" textLength="113" lengthAdjust="spacing">保全総括グループ</text>
<text class="t3" x="1245" y="497.6" textLength="113" lengthAdjust="spacing">タービングループ</text>
<text class="t3" x="1245" y="504.5" textLength="113" lengthAdjust="spacing">原子炉グループ</text>
<text class="t3" x="1245" y="511.3" textLength="113" lengthAdjust="spacing">高経年化評価グループ</text><text class="t3" x="1360" y="511.3">※3</text>
<text class="t3" x="1245" y="518.2" textLength="113" lengthAdjust="spacing">電気機器グループ</text>
<text class="t3" x="1245" y="525.1" textLength="113" lengthAdjust="spacing">計測制御グループ</text>
<text class="t3" x="1245" y="532" textLength="113" lengthAdjust="spacing">機械設備グループ</text><text class="t3" x="1360" y="532">※3</text>
<text class="t3" x="1245" y="538.9" textLength="113" lengthAdjust="spacing">機械建設プロジェクトグループ</text><text class="t3" x="1360" y="538.9">※3</text>
<text class="t3" x="1245" y="545.7" textLength="113" lengthAdjust="spacing">システムエンジニアリンググループ</text>
<text class="t3" x="1245" y="552.6" textLength="113" lengthAdjust="spacing">電子通信グループ</text><text class="t3" x="1360" y="552.6">※3</text>
<text class="t3" x="1245" y="559.5" textLength="113" lengthAdjust="spacing">高圧作業グループ</text><text class="t3" x="1360" y="559.5">※3</text>
<text class="t3" x="1245" y="566.4" textLength="113" lengthAdjust="spacing">土木グループ</text><text class="t3" x="1360" y="566.4">※3</text>
<text class="t3" x="1245" y="573.3" textLength="113" lengthAdjust="spacing">建築グループ</text><text class="t3" x="1360" y="573.3">※3</text>
</g>
<g id="c3-notes">
<text class="t3" x="1000" y="525">※１：発電所に常駐。</text>
<text class="t3" x="1000" y="531.7">※２：柏崎刈羽原子力発電所に常駐。</text>
<text class="t3" x="1000" y="539" textLength="198">※３：それぞれ１グループで１～７号炉を所管する。（所管する号炉が第一</text>
<text class="t3" x="1015" y="546.7">及び第二保全部に係ることから，便宜上両部に記載している。）</text>
</g>
<text class="cap" x="1116.7" y="596.7" style="font-size:11.5px" textLength="125">第１図　原子力関係組織</text>
<text class="cap" x="1243.3" y="623.3" style="font-size:11px" textLength="130">（平成 29 年 5 月 1 日現在）</text>
</g>

<!-- Column 4 -->
<g id="col4-connectors">
<path class="l2" d="M1521.7,156.7V209.3H1535M1535,177.3V246.7M1535,177.3H1547.3M1535,246.7H1547.3M1559.3,186.7V202.7H1685M1622.7,246H1685M1672.3,246V472M1672.3,266H1685M1672.3,284.3H1685M1672.3,302.7H1685M1672.3,321.7H1685M1672.3,340H1685M1672.3,359H1685M1672.3,377.7H1685M1672.3,415.7H1685M1791.7,340H1803M1672.3,453.3H1803.3M1672.3,472H1803.3"/>
<path class="l2" stroke-dasharray="1.5 1.2" style="stroke-width:0.8" d="M1535,221H1547.3M1647.7,246V267.3M1697.3,382.2V397H1710"/>
</g>
<g id="col4-nodes">
<text x="1893.3" y="111.7" text-anchor="end" class="cap" style="font-size:11px">（平成 29 年 10 月 1 日現在）</text>
<g id="c4-shacho"><rect class="b4" x="1502.7" y="149.3" width="38" height="7.4"/><text class="t4" x="1521.7" y="153">社長</text></g>
<g id="c4-kansa"><rect class="b4" x="1547.3" y="168.3" width="75.4" height="18.4"/><text class="t4" x="1585" y="174">監査管理責任者</text><text class="t4" x="1585" y="181">（考査・品質監査室長）</text></g>
<g id="c4-kosa"><rect class="b4" x="1685" y="198.7" width="106.7" height="8.6"/><text class="t4" x="1738.3" y="203">考査・品質監査室長</text></g>
<g id="c4-hqc"><rect class="d4" x="1547.3" y="216" width="87" height="10"/><text class="t4" x="1590.8" y="221">品質保証委員会</text></g>
<g id="c4-jisshi"><rect class="b4" x="1547.3" y="237.7" width="75.4" height="18"/><text class="t4" x="1585" y="243.2">実施部門管理責任者</text><text class="t4" x="1585" y="250.2">（安全室担当取締役）</text></g>
<g id="c4-hoan"><rect class="d4" x="1572.7" y="267.3" width="88" height="9.4"/><text class="t4" x="1616.7" y="272">原子炉施設保安委員会</text></g>
<g id="c4-anzen"><rect class="b4" x="1685" y="242.4" width="106.7" height="8.6"/><text class="t4" x="1738.3" y="246.7">安全室長</text></g>
<g id="c4-chiiki"><rect class="b4" x="1685" y="261.7" width="106.7" height="8.6"/><text class="t4" x="1738.3" y="266">地域共生・広報室長</text></g>
<g id="c4-keiei"><rect class="b4" x="1685" y="280" width="106.7" height="8.6"/><text class="t4" x="1738.3" y="284.3">経営企画室長</text></g>
<g id="c4-somu"><rect class="b4" x="1685" y="298.4" width="106.7" height="8.6"/><text class="t4" x="1738.3" y="302.7">総務室長（本店）</text></g>
<g id="c4-keiri"><rect class="b4" x="1685" y="317.4" width="106.7" height="8.6"/><text class="t4" x="1738.3" y="321.7">経理・資材室長</text></g>
<g id="c4-romu"><rect class="b4" x="1685" y="335.7" width="106.7" height="8.6"/><text class="t4" x="1738.3" y="340">労務管理室長</text></g>
<g id="c4-haishi"><rect class="b4" x="1685" y="354.7" width="106.7" height="8.6"/><text class="t4" x="1738.3" y="359">廃止措置プロジェクト推進室長</text></g>
<g id="c4-kaihatsu"><rect class="b4" x="1685" y="373.4" width="106.7" height="8.6"/><text class="t4" x="1738.3" y="377.7">開発計画室長</text></g>
<g id="c4-hqu"><rect class="d4" x="1710" y="392.3" width="88.3" height="9.4"/><text class="t4" x="1754.2" y="397">品質保証運営委員会</text></g>
<g id="c4-kokusai"><rect class="b4" x="1685" y="411.4" width="106.7" height="8.6"/><text class="t4" x="1738.3" y="415.7">国際事業推進室長</text></g>
<text class="t4" x="1816" y="340">※１→</text>
<text class="t4" x="1816" y="453.3">※２→</text>
<text class="t4" x="1816" y="472">※３→</text>
<rect x="1547.3" y="497.5" width="59.4" height="30" fill="none" stroke="#ffee00" stroke-width="4"/>
<text class="cap" x="1577" y="513" text-anchor="middle" style="font-size:12px">第１図</text>
<text class="cap" x="1609.3" y="513" style="font-size:12px" textLength="160">原子力関係組織系統図（1／3）</text>
</g>
</svg>
